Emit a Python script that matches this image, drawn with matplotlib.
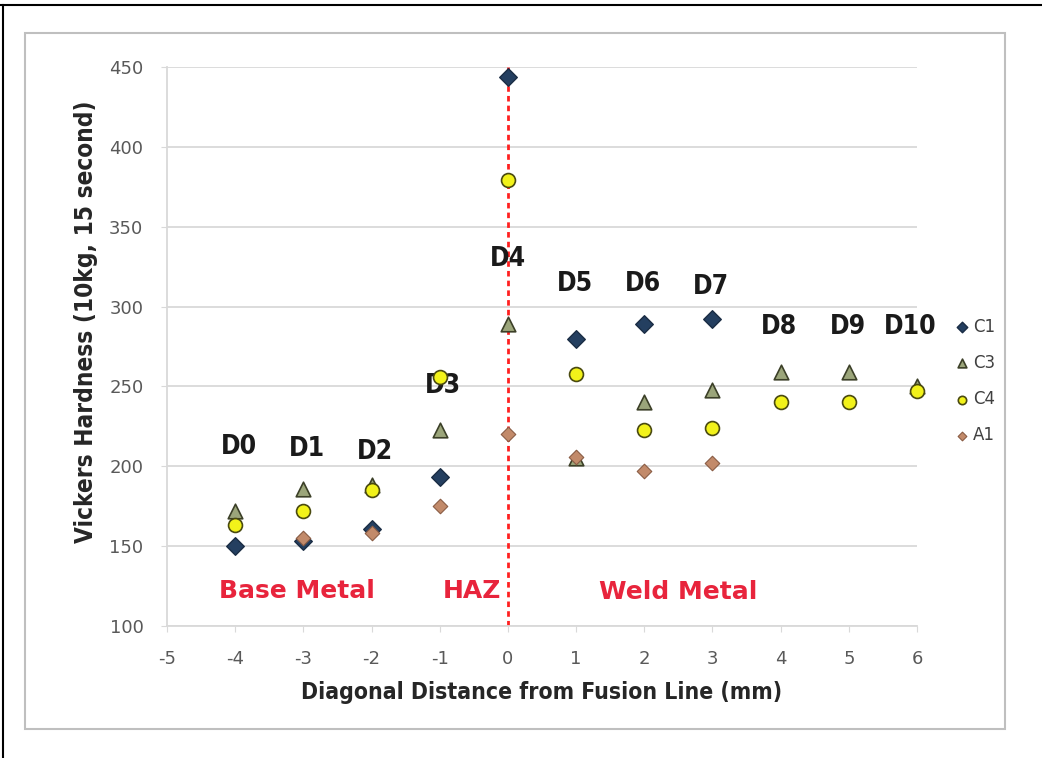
import matplotlib
matplotlib.use("Agg")
import matplotlib.pyplot as plt
from matplotlib.patches import Rectangle
from matplotlib.lines import Line2D

plt.rcParams["axes.unicode_minus"] = False

# ---- data ----
x_c1 = [-4, -3, -2, -1, 0, 1, 2, 3]
y_c1 = [150, 153, 161, 193, 444, 280, 289, 292]
x_c3 = [-4, -3, -2, -1, 0, 1, 2, 3, 4, 5, 6]
y_c3 = [172, 186, 188, 223, 289, 205, 240, 248, 259, 259, 250]
x_c4 = [-4, -3, -2, -1, 0, 1, 2, 3, 4, 5, 6]
y_c4 = [163, 172, 185, 256, 379, 258, 223, 224, 240, 240, 247]
x_a1 = [-3, -2, -1, 0, 1, 2, 3]
y_a1 = [155, 158, 175, 220, 206, 197, 202]

d_labels = ["D0", "D1", "D2", "D3", "D4", "D5", "D6", "D7", "D8", "D9", "D10"]
d_x = [-3.95, -2.95, -1.95, -0.95, 0.0, 0.98, 1.98, 2.98, 3.98, 4.98, 5.9]
d_y = [212, 211, 209, 250, 330, 314, 314, 312, 287, 287, 287]

zones = ["Base Metal", "HAZ", "Weld Metal"]
zone_x = [-3.1, -0.53, 2.5]
zone_y = [122, 122, 121]

x_ticks = [-5, -4, -3, -2, -1, 0, 1, 2, 3, 4, 5, 6]
y_ticks = [100, 150, 200, 250, 300, 350, 400, 450]

fig = plt.figure(figsize=(10.42, 7.58), dpi=100)
W, H = 1042, 758

# outer black border (top and left)
fig.add_artist(Line2D([0, 1], [1 - 5 / H, 1 - 5 / H], color="black", lw=1.5, transform=fig.transFigure))
fig.add_artist(Line2D([3 / W, 3 / W], [0, 1 - 5 / H], color="black", lw=1.5, transform=fig.transFigure))
# inner chart frame
fig.add_artist(Rectangle((25 / W, 1 - 729 / H), (1005 - 25) / W, (729 - 33) / H,
                         fill=False, edgecolor="#BFBFBF", lw=1.5, transform=fig.transFigure))

ax = fig.add_axes([167 / W, 1 - 626 / H, (917 - 167) / W, (626 - 67) / H])
ax.set_xlim(-5, 6)
ax.set_ylim(100, 450)
ax.set_xticks(x_ticks)
ax.set_yticks(y_ticks)
ax.grid(axis="y", color="#D9D9D9", lw=1.3)
ax.set_axisbelow(True)
for s in ["top", "right"]:
    ax.spines[s].set_visible(False)
for s in ["bottom", "left"]:
    ax.spines[s].set_color("#D9D9D9")
    ax.spines[s].set_linewidth(1.3)
ax.tick_params(axis="both", colors="#D9D9D9", labelcolor="#595959", labelsize=13, length=4)
ax.tick_params(axis="x", pad=13)
ax.tick_params(axis="y", pad=13)

ax.axvline(0, color="#FF2020", lw=2, ls=(0, (2, 1.5)), zorder=2)

ax.scatter(x_c1, y_c1, marker="D", s=80, color="#243F60", edgecolor="#1A2C44", lw=1, zorder=3, label="C1")
ax.scatter(x_c3, y_c3, marker="^", s=110, color="#9BA57A", edgecolor="#3C4028", lw=1.2, zorder=4, label="C3",
           clip_on=False)
ax.scatter(x_c4, y_c4, marker="o", s=100, color="#F2F21A", edgecolor="#4A4A10", lw=1.2, zorder=5, label="C4",
           clip_on=False)
ax.scatter(x_a1, y_a1, marker="D", s=55, color="#C28A6A", edgecolor="#8A5C44", lw=0.8, zorder=6, label="A1")

for lab, xx, yy in zip(d_labels, d_x, d_y):
    ax.text(xx, yy, lab, ha="center", va="center", fontsize=19, fontweight="bold",
            fontstretch="condensed", family="DejaVu Sans", color="#1A1A1A")

for lab, xx, yy in zip(zones, zone_x, zone_y):
    ax.text(xx, yy, lab, ha="center", va="center", fontsize=18, fontweight="bold",
            color="#E8243C")

ax.set_xlabel("Diagonal Distance from Fusion Line (mm)", fontsize=16.5, fontweight="bold",
              fontstretch="condensed", color="#262626", labelpad=10)
ax.set_ylabel("Vickers Hardness (10kg, 15 second)", fontsize=17.5, fontweight="bold",
              fontstretch="condensed", color="#262626")
ax.yaxis.set_label_coords(-0.092, 0.544)

leg = ax.legend(loc="center left", bbox_to_anchor=(940 / W, 1 - 381 / H),
                bbox_transform=fig.transFigure, frameon=False, fontsize=12,
                handlelength=0.8, handletextpad=0.3, labelspacing=1.1,
                markerscale=0.6)
for t in leg.get_texts():
    t.set_color("#404040")

fig.savefig("out.png", dpi=100)
